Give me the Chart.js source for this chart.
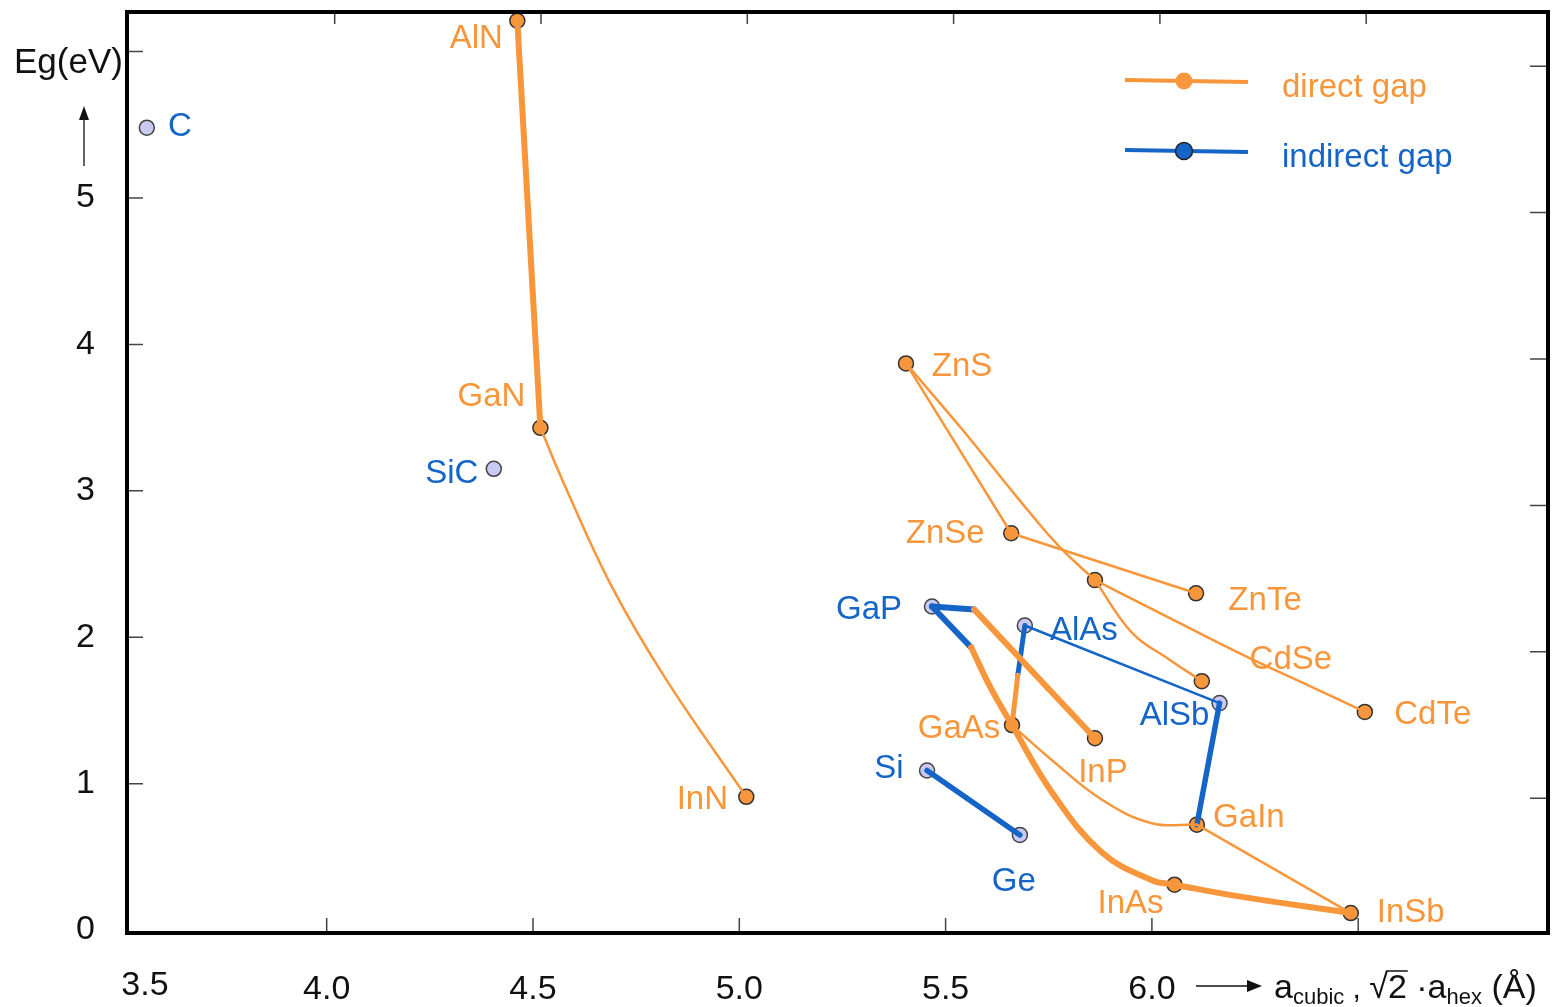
<!DOCTYPE html>
<html>
<head>
<meta charset="utf-8">
<title>Band gap vs lattice constant</title>
<script src="https://cdn.jsdelivr.net/npm/chart.js@4/dist/chart.umd.min.js"></script>
<style>
  html, body { margin: 0; padding: 0; background: #fff; }
  #wrap { width: 1558px; height: 1007px; }
</style>
</head>
<body>
<div id="wrap"><canvas id="gapChart" width="1558" height="1007"></canvas></div>
<script>
// compounds with a direct gap (a in Angstrom, Eg in eV)
const directNames = ['AlN', 'GaN', 'InN', 'ZnS', 'ZnSe', '', 'ZnTe', 'CdSe', 'CdTe', 'GaAs', 'InP', 'GaIn', 'InAs', 'InSb'];
const directA  = [4.462, 4.518, 5.017, 5.404, 5.659, 5.862, 6.107, 6.121, 6.516, 5.661, 5.862, 6.109, 6.055, 6.482];
const directEg = [6.21, 3.43, 0.91, 3.87, 2.71, 2.39, 2.30, 1.70, 1.49, 1.40, 1.31, 0.72, 0.31, 0.116];

// compounds with an indirect gap
const indirectNames = ['C', 'SiC', 'GaP', 'AlAs', 'AlSb', 'Si', 'Ge'];
const indirectA  = [3.564, 4.405, 5.467, 5.692, 6.164, 5.455, 5.680];
const indirectEg = [5.48, 3.15, 2.21, 2.08, 1.55, 1.09, 0.65];

// alloy lines
const alnGanA = [4.462, 4.518];
const alnGanEg = [6.21, 3.43];
const ganInnA = [4.518, 4.581, 4.692, 4.823, 5.017];
const ganInnEg = [3.43, 3.01, 2.34, 1.71, 0.91];
const znsZnseA = [5.404, 5.659];
const znsZnseEg = [3.87, 2.71];
const znsCdsA = [5.404, 5.540, 5.678, 5.775, 5.862];
const znsCdsEg = [3.87, 3.42, 2.94, 2.62, 2.39];
const znseZnteA = [5.659, 6.107];
const znseZnteEg = [2.71, 2.30];
const cdsCdseA = [5.862, 5.952, 6.041, 6.121];
const cdsCdseEg = [2.39, 2.03, 1.85, 1.70];
const cdsCdteA = [5.862, 6.065, 6.228, 6.388, 6.516];
const cdsCdteEg = [2.39, 2.10, 1.87, 1.66, 1.49];
const gapBendA = [5.467, 5.562];          // GaP side, indirect part
const gapBendEg = [2.21, 1.93];
const gaasInsbA = [5.562, 5.610, 5.661, 5.758, 5.879, 6.000, 6.055, 6.211, 6.482];
const gaasInsbEg = [1.93, 1.65, 1.40, 0.94, 0.53, 0.34, 0.31, 0.23, 0.116];
const gapInpBlueA = [5.467, 5.569];
const gapInpBlueEg = [2.21, 2.19];
const gapInpA = [5.569, 5.862];
const gapInpEg = [2.19, 1.31];
const alasGaasBlueA = [5.692, 5.675];
const alasGaasBlueEg = [2.08, 1.74];
const alasGaasA = [5.675, 5.661];
const alasGaasEg = [1.74, 1.40];
const alasAlsbA = [5.692, 6.164];
const alasAlsbEg = [2.08, 1.55];
const alsbGasbA = [6.164, 6.109];
const alsbGasbEg = [1.55, 0.72];
const gaasGasbA = [5.661, 5.758, 5.879, 6.000, 6.109];
const gaasGasbEg = [1.40, 1.16, 0.89, 0.73, 0.72];
const gasbInsbA = [6.109, 6.482];
const gasbInsbEg = [0.72, 0.116];
const siGeA = [5.455, 5.680];
const siGeEg = [1.09, 0.65];

const xTicks = [4.0, 4.5, 5.0, 5.5, 6.0, 6.5];
const yTicks = [0, 1, 2, 3, 4, 5, 6];

const ORANGE = '#f7963a';
const BLUE = '#1565c8';
const LAVENDER = '#c9c9f2';
const FONT = '"Liberation Sans", Arial, sans-serif';

// label offsets in pixels from each marker
const directOffsets = [[-41, 18], [-49, -31], [-44, 3], [56, 3], [-66, 1], [0, 0], [69, 8], [89, -21], [68, 3], [-53, 4], [8, 35], [52, -7], [-44, 19], [60, 0]];
const indirectOffsets = [[33, -1], [-42, 5], [-63, 3], [59, 5], [-45, 13], [-38, -2], [-6, 47]];

function pts(xs, ys) {
  return xs.map((x, i) => ({ x: x, y: ys[i] }));
}

function line(xs, ys, color, width, curved) {
  return {
    type: 'scatter',
    data: pts(xs, ys),
    showLine: true,
    borderColor: color,
    borderWidth: width,
    pointRadius: 0,
    pointHoverRadius: 0,
    tension: curved ? 0.4 : 0,
    borderCapStyle: 'round',
    borderJoinStyle: 'round',
    clip: false
  };
}

const datasets = [
  line(alnGanA, alnGanEg, ORANGE, 6, false),
  line(ganInnA, ganInnEg, ORANGE, 2.5, true),
  line(znsZnseA, znsZnseEg, ORANGE, 2.5, false),
  line(znsCdsA, znsCdsEg, ORANGE, 2.5, true),
  line(znseZnteA, znseZnteEg, ORANGE, 2.5, false),
  line(cdsCdseA, cdsCdseEg, ORANGE, 2.5, true),
  line(cdsCdteA, cdsCdteEg, ORANGE, 2.5, true),
  line(gaasGasbA, gaasGasbEg, ORANGE, 2.5, true),
  line(gasbInsbA, gasbInsbEg, ORANGE, 2.5, false),
  line(gaasInsbA, gaasInsbEg, ORANGE, 6, true),
  line(gapInpA, gapInpEg, ORANGE, 6, false),
  line(alasGaasA, alasGaasEg, ORANGE, 5, false),
  line(gapBendA, gapBendEg, BLUE, 6, false),
  line(gapInpBlueA, gapInpBlueEg, BLUE, 6, false),
  line(alasGaasBlueA, alasGaasBlueEg, BLUE, 5, false),
  line(alasAlsbA, alasAlsbEg, BLUE, 2.5, false),
  line(alsbGasbA, alsbGasbEg, BLUE, 5.5, false),
  line(siGeA, siGeEg, BLUE, 5.5, false),
  {
    type: 'scatter',
    data: pts(directA, directEg),
    pointRadius: 7.5,
    pointBackgroundColor: ORANGE,
    pointBorderColor: '#333',
    pointBorderWidth: 1.5,
    clip: false
  },
  {
    type: 'scatter',
    data: pts(indirectA, indirectEg),
    pointRadius: 7.5,
    pointBackgroundColor: LAVENDER,
    pointBorderColor: '#444',
    pointBorderWidth: 1.5,
    clip: false
  }
];
const DIRECT_SET = datasets.length - 2;
const INDIRECT_SET = datasets.length - 1;

const decorPlugin = {
  id: 'decor',
  afterDatasetsDraw(chart) {
    const ctx = chart.ctx;
    const a = chart.chartArea;
    const xs = chart.scales.x;
    const ys = chart.scales.y;
    ctx.save();

    // inward tick marks
    ctx.strokeStyle = '#444';
    ctx.lineWidth = 1.5;
    xTicks.forEach(v => {
      const px = xs.getPixelForValue(v);
      ctx.beginPath();
      ctx.moveTo(px, a.bottom); ctx.lineTo(px, a.bottom - 15);
      ctx.moveTo(px + 8, a.top); ctx.lineTo(px + 8, a.top + 12);
      ctx.stroke();
    });
    yTicks.slice(1).forEach(v => {
      const py = ys.getPixelForValue(v);
      const pr = ys.getPixelForValue(v - 0.1);
      ctx.beginPath();
      ctx.moveTo(a.left, py); ctx.lineTo(a.left + 16, py);
      ctx.moveTo(a.right, pr); ctx.lineTo(a.right - 18, pr);
      ctx.stroke();
    });

    // frame
    ctx.strokeStyle = '#000';
    ctx.lineWidth = 4;
    ctx.strokeRect(a.left, a.top, a.right - a.left, a.bottom - a.top);

    // point labels
    ctx.font = '33px ' + FONT;
    ctx.textAlign = 'center';
    ctx.textBaseline = 'middle';
    const dm = chart.getDatasetMeta(DIRECT_SET).data;
    ctx.fillStyle = ORANGE;
    directNames.forEach((n, i) => {
      if (!n) return;
      ctx.fillText(n, dm[i].x + directOffsets[i][0], dm[i].y + directOffsets[i][1]);
    });
    const im = chart.getDatasetMeta(INDIRECT_SET).data;
    ctx.fillStyle = BLUE;
    indirectNames.forEach((n, i) => {
      ctx.fillText(n, im[i].x + indirectOffsets[i][0], im[i].y + indirectOffsets[i][1]);
    });

    // legend
    const legend = [['direct gap', ORANGE, ORANGE, 86], ['indirect gap', BLUE, '#222', 156]];
    legend.forEach(([txt, col, edge, y]) => {
      ctx.strokeStyle = col;
      ctx.lineWidth = 4;
      ctx.beginPath();
      ctx.moveTo(1125, y - 6); ctx.lineTo(1248, y - 4);
      ctx.stroke();
      ctx.beginPath();
      ctx.arc(1184, y - 5, 8.5, 0, Math.PI * 2);
      ctx.fillStyle = col;
      ctx.fill();
      if (edge !== col) { ctx.strokeStyle = edge; ctx.lineWidth = 1.5; ctx.stroke(); }
      ctx.fillStyle = col;
      ctx.textAlign = 'left';
      ctx.font = '33px ' + FONT;
      ctx.fillText(txt, 1282, y + 2);
    });

    // y axis title with arrow
    ctx.fillStyle = '#111';
    ctx.font = '35px ' + FONT;
    ctx.textAlign = 'left';
    ctx.fillText('Eg(eV)', 14, 63);
    ctx.strokeStyle = '#333';
    ctx.lineWidth = 1.5;
    ctx.beginPath();
    ctx.moveTo(84, 166); ctx.lineTo(84, 118);
    ctx.stroke();
    ctx.fillStyle = '#111';
    ctx.beginPath();
    ctx.moveTo(84, 106); ctx.lineTo(79, 120); ctx.lineTo(89, 120);
    ctx.closePath(); ctx.fill();

    // first x label sits at the corner
    ctx.font = '34px ' + FONT;
    ctx.textAlign = 'center';
    ctx.fillText('3.5', 145, 986);

    // x axis title
    const by = 998;
    ctx.strokeStyle = '#111';
    ctx.beginPath();
    ctx.moveTo(1196, 986); ctx.lineTo(1250, 986);
    ctx.stroke();
    ctx.beginPath();
    ctx.moveTo(1262, 986); ctx.lineTo(1247, 980); ctx.lineTo(1247, 992);
    ctx.closePath(); ctx.fill();
    ctx.textAlign = 'left';
    ctx.textBaseline = 'alphabetic';
    let cx = 1274;
    const put = (s, size, dy) => {
      ctx.font = size + 'px ' + FONT;
      ctx.fillText(s, cx, by + dy);
      cx += ctx.measureText(s).width;
    };
    put('a', 34, 0);
    put('cubic', 22, 6);
    put(' , ', 30, 0);
    put('\u221A', 34, 0);
    const ox = cx;
    put('2', 34, 0);
    ctx.lineWidth = 1.5;
    ctx.beginPath();
    ctx.moveTo(ox - 2, by - 27); ctx.lineTo(cx + 1, by - 27);
    ctx.stroke();
    put(' \u00B7a', 34, 0);
    put('hex', 22, 6);
    put(' (\u00C5)', 34, 0);

    ctx.restore();
  }
};

new Chart(document.getElementById('gapChart'), {
  type: 'scatter',
  data: { datasets: datasets },
  options: {
    responsive: false,
    animation: false,
    events: [],
    layout: { padding: { top: 12, right: 10, left: 0, bottom: 0 } },
    plugins: { legend: { display: false }, tooltip: { enabled: false } },
    scales: {
      x: {
        type: 'linear',
        min: 3.516,
        max: 6.96,
        afterBuildTicks: s => { s.ticks = xTicks.map(v => ({ value: v })); },
        afterFit: s => { s.height = 74; s.paddingLeft = 0; s.paddingRight = 0; },
        grid: { display: false, drawTicks: false },
        border: { display: false },
        ticks: {
          padding: 36,
          color: '#111',
          font: { size: 34, family: FONT },
          callback: v => (v <= 6.0 ? v.toFixed(1) : '')
        }
      },
      y: {
        type: 'linear',
        min: -0.02,
        max: 6.27,
        afterBuildTicks: s => { s.ticks = yTicks.map(v => ({ value: v })); },
        afterFit: s => { s.width = 127; s.paddingTop = 0; s.paddingBottom = 0; },
        grid: { display: false, drawTicks: false },
        border: { display: false },
        ticks: {
          padding: 32,
          color: '#111',
          font: { size: 34, family: FONT },
          callback: v => (v <= 5 ? String(v) : '')
        }
      }
    }
  },
  plugins: [decorPlugin]
});
</script>
</body>
</html>
